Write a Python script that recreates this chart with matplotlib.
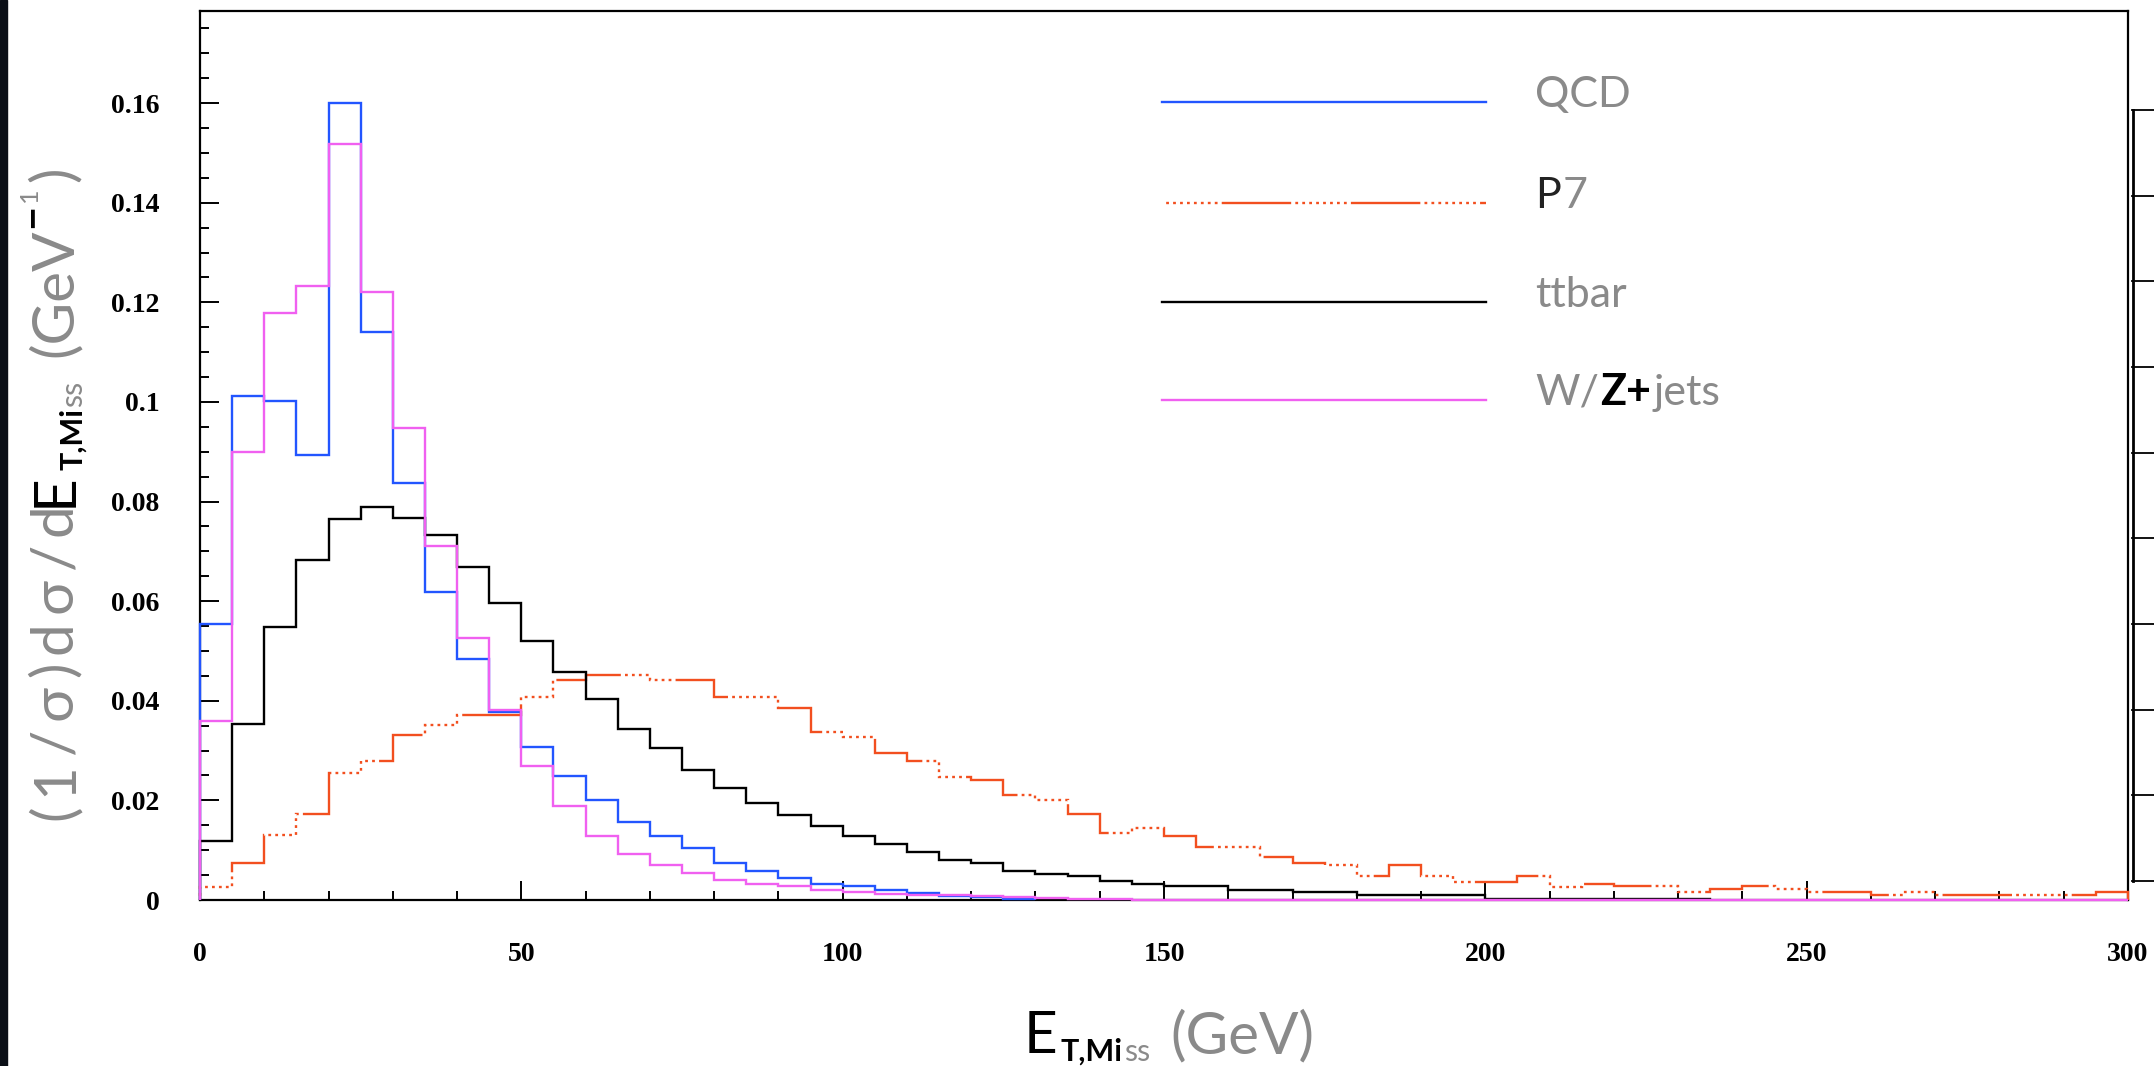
import numpy as np
import matplotlib
matplotlib.use('Agg')
from matplotlib import pyplot as plt
from matplotlib.lines import Line2D
from matplotlib.patches import Rectangle
from matplotlib.ticker import FuncFormatter

plt.rcParams['lines.scale_dashes'] = False

W, H = 2154, 1066
FAMILY = ['Lato', 'DejaVu Sans']
GREY = '#8a8a8a'

bin_width = 5  # GeV

# normalised MET distributions, 5 GeV bins starting at 0
qcd = [0.0555, 0.1012, 0.1002, 0.0894, 0.1600, 0.1141, 0.0837, 0.0619, 0.0483, 0.0377,
       0.0307, 0.0248, 0.0200, 0.0156, 0.0129, 0.0104, 0.0075, 0.0059, 0.0044, 0.0033,
       0.0028, 0.0021, 0.0015, 0.0009, 0.0006, 0.0002]

p7 = [0.0027, 0.0075, 0.0130, 0.0172, 0.0254, 0.0280, 0.0332, 0.0351, 0.0371, 0.0372,
      0.0408, 0.0442, 0.0451, 0.0451, 0.0441, 0.0441, 0.0408, 0.0408, 0.0386, 0.0338,
      0.0328, 0.0296, 0.0279, 0.0246, 0.0241, 0.0210, 0.0200, 0.0172, 0.0134, 0.0145,
      0.0129, 0.0107, 0.0107, 0.0087, 0.0075, 0.0070, 0.0048, 0.0070, 0.0049, 0.0037,
      0.0037, 0.0049, 0.0027, 0.0032, 0.0028, 0.0028, 0.0017, 0.0022, 0.0028, 0.0022,
      0.0017, 0.0017, 0.0011, 0.0017, 0.0011, 0.0011, 0.0011, 0.0011, 0.0011, 0.0017]

ttbar = [0.0119, 0.0354, 0.0548, 0.0683, 0.0764, 0.0790, 0.0768, 0.0732, 0.0668, 0.0596,
         0.0521, 0.0458, 0.0404, 0.0344, 0.0306, 0.0262, 0.0224, 0.0194, 0.0171, 0.0149,
         0.0129, 0.0112, 0.0096, 0.0080, 0.0074, 0.0059, 0.0052, 0.0048, 0.0038, 0.0032,
         0.0028, 0.0028, 0.0021, 0.0021, 0.0016, 0.0016, 0.0011, 0.0011, 0.0011, 0.0011,
         0.0003, 0.0003, 0.0003, 0.0003, 0.0003, 0.0003, 0.0003]

wz_jets = [0.0360, 0.0899, 0.1178, 0.1232, 0.1517, 0.1221, 0.0947, 0.0710, 0.0527, 0.0381,
           0.0270, 0.0188, 0.0128, 0.0092, 0.0070, 0.0054, 0.0040, 0.0033, 0.0028, 0.0021,
           0.0017, 0.0012, 0.0011, 0.0011, 0.0008, 0.0006, 0.0004, 0.0003, 0.0003, 0.0,
           0.0, 0.0, 0.0, 0.0, 0.0, 0.0, 0.0, 0.0, 0.0, 0.0,
           0.0, 0.0, 0.0, 0.0, 0.0, 0.0, 0.0, 0.0, 0.0, 0.0,
           0.0, 0.0, 0.0, 0.0, 0.0, 0.0, 0.0, 0.0, 0.0, 0.0]

labels = ['QCD', 'P7', 'ttbar', 'W/Z+jets']
colors = ['#2255ff', '#f24f1f', 'black', '#f060f0']
# long dash followed by a run of dots
p7_dash = (50, (50, 3) + (2, 3) * 8)
styles = ['-', p7_dash, '-', '-']

x_ticks = [0, 50, 100, 150, 200, 250, 300]
y_ticks = [0, 0.02, 0.04, 0.06, 0.08, 0.1, 0.12, 0.14, 0.16]

fig = plt.figure(figsize=(W / 100, H / 100), dpi=100)
ax = fig.add_axes([200 / W, 1 - 900 / H, 1928 / W, 889 / H])

for vals, col, ls in zip([qcd, p7, ttbar, wz_jets], colors, styles):
    edges = np.arange(len(vals) + 1) * bin_width
    ax.stairs(vals, edges, color=col, linewidth=1.7, linestyle=ls, zorder=3, clip_on=False)

ax.set_xlim(0, 300)
ax.set_ylim(0, 0.1785)
ax.set_xticks(x_ticks)
ax.set_xticks(np.arange(0, 301, 10), minor=True)
ax.set_yticks(y_ticks)
ax.set_yticks(np.arange(0, 0.178, 0.005), minor=True)
ax.yaxis.set_major_formatter(FuncFormatter(lambda v, p: f'{round(v, 3):g}'))
ax.tick_params(which='both', direction='in', top=False, right=False, width=1.4)
ax.tick_params(which='major', length=14)
ax.tick_params(which='minor', length=6.5)
ax.tick_params(axis='x', pad=30)
ax.tick_params(axis='y', pad=29)
for lab in ax.get_xticklabels() + ax.get_yticklabels():
    lab.set_fontfamily('Liberation Serif')
    lab.set_fontweight('bold')
    lab.set_fontsize(20)
for sp in ax.spines.values():
    sp.set_linewidth(1.6)

renderer = fig.canvas.get_renderer()


def chain(runs, x, y, vertical=False, track=None):
    """Place text runs one after another; x, y are pixels from the top-left corner.
    With track set, the first run is spread out letter by letter."""
    pos = (H - y) if vertical else x
    pieces = []
    for i, (text, color, weight, size, shift, gap) in enumerate(runs):
        if i == 0 and track is not None:
            for j, ch in enumerate(text):
                pieces.append((ch, color, weight, size, shift, gap if j == 0 else track))
        else:
            pieces.append((text, color, weight, size, shift, gap))
    for text, color, weight, size, shift, gap in pieces:
        pos += gap
        if vertical:
            px, py = x + shift, pos
        else:
            px, py = pos, (H - y) - shift
        t = fig.text(px / W, py / H, text, color=color, fontweight=weight, fontsize=size,
                     family=FAMILY, rotation=90 if vertical else 0, rotation_mode='anchor',
                     ha='left', va='baseline')
        bb = t.get_window_extent(renderer)
        pos = bb.y1 if vertical else bb.x1


# y axis title
chain([('(1/σ)dσ/d', GREY, 'normal', 42, 0, 0)], 72, 820, vertical=True, track=8)
chain([('E', 'black', 'normal', 42, 0, 0),
       ('T,Mi', 'black', 'bold', 22, 10, 3),
       ('ss', GREY, 'normal', 22, 10, 1),
       ('(GeV', GREY, 'normal', 42, 0, 24),
       ('−', 'black', 'bold', 30, -28, 0),
       ('1', GREY, 'normal', 18, -35, 2),
       (')', GREY, 'normal', 42, 0, 6)], 72, 507, vertical=True)

# x axis title
chain([('E', 'black', 'normal', 42, 0, 0),
       ('T,Mi', 'black', 'bold', 22, 8, 3),
       ('ss', GREY, 'normal', 22, 8, 1),
       ('(GeV)', GREY, 'normal', 42, 0, 20)], 1024, 1053)

# legend
legend_y = [102, 203, 302, 400]
legend_runs = [[('QCD', GREY, 'normal', 31, 0, 0)],
               [('P', '#222222', 'normal', 31, 0, 0), ('7', GREY, 'normal', 31, 0, 2)],
               [('ttbar', GREY, 'normal', 31, 0, 0)],
               [('W/', GREY, 'normal', 31, 0, 0), ('Z+', 'black', 'bold', 31, 0, 1),
                ('jets', GREY, 'normal', 31, 0, 3)]]
for ly, col, ls, runs in zip(legend_y, colors, styles, legend_runs):
    fig.add_artist(Line2D([1162 / W, 1486 / W], [1 - ly / H] * 2, color=col,
                          linewidth=1.7, linestyle=ls))
    chain(runs, 1535, ly + 5)

# edge of a neighbouring pad and the dark strip on the left
for by in np.linspace(110, 881, 10):
    fig.add_artist(Line2D([2132 / W, 1], [1 - by / H] * 2, color='black', linewidth=1.3))
fig.add_artist(Line2D([2133 / W] * 2, [1 - 110 / H, 1 - 881 / H], color='black', linewidth=2))
fig.add_artist(Rectangle((0, 0), 7 / W, 1, color='#0b0f17', transform=fig.transFigure))

fig.savefig('out.png', dpi=100)
